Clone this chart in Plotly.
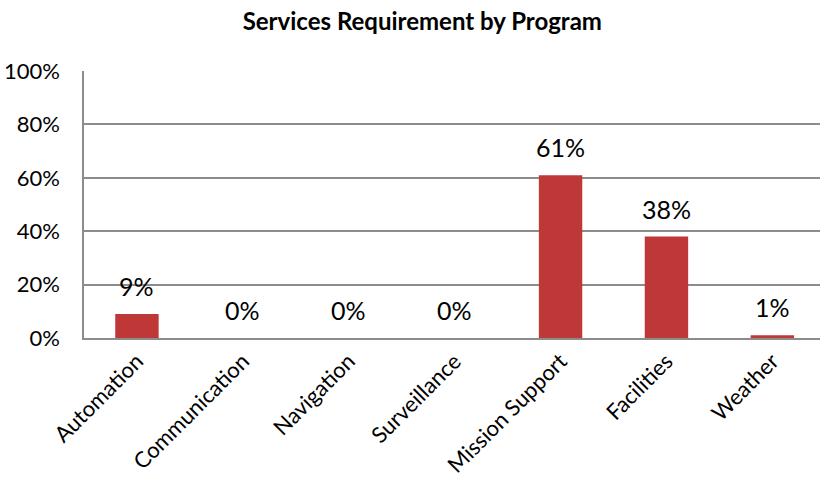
import plotly.graph_objects as go

categories = ["Automation", "Communication", "Navigation", "Surveillance",
              "Mission Support", "Facilities", "Weather"]
values = [0.09, 0.0, 0.0, 0.0, 0.61, 0.38, 0.01]
labels = ["9%", "0%", "0%", "0%", "61%", "38%", "1%"]
y_ticks = [0, 0.2, 0.4, 0.6, 0.8, 1.0]
y_tick_labels = ["0%", "20%", "40%", "60%", "80%", "100%"]

FONT = "Lato"

fig = go.Figure()
fig.add_trace(go.Bar(
    x=list(range(len(categories))), y=values, width=0.41,
    marker=dict(color="#bf3838", line=dict(width=0)),
    hoverinfo="skip",
))

for i, (v, t) in enumerate(zip(values, labels)):
    fig.add_annotation(x=i, y=v, text=t, showarrow=False, yanchor="middle",
                       yshift=28, font=dict(family=FONT, size=25, color="#000"))

fig.update_layout(
    width=820, height=480,
    margin=dict(l=84, r=0, t=71, b=142),
    paper_bgcolor="white", plot_bgcolor="white",
    showlegend=False,
    title=dict(text="<b>Services Requirement by Program</b>", x=0.515, xanchor="center",
               y=0.955, yanchor="middle",
               font=dict(family=FONT, size=24, color="#000")),
    xaxis=dict(
        range=[-0.5, 6.45], tickmode="array",
        tickvals=list(range(len(categories))), ticktext=categories,
        tickangle=-45, showgrid=False, showline=True, linecolor="#8c8c8c",
        linewidth=1.5, ticks="", tickfont=dict(family=FONT, size=22, color="#000"),
        zeroline=False,
    ),
    yaxis=dict(
        range=[0, 1.0], tickmode="array", tickvals=y_ticks, ticktext=y_tick_labels,
        showgrid=True, gridcolor="#8c8c8c", gridwidth=1.5,
        showline=True, linecolor="#8c8c8c", linewidth=1.5,
        ticks="", ticklabelstandoff=18,
        tickfont=dict(family=FONT, size=22, color="#000"), zeroline=False,
    ),
)

fig.write_html("out.html")
